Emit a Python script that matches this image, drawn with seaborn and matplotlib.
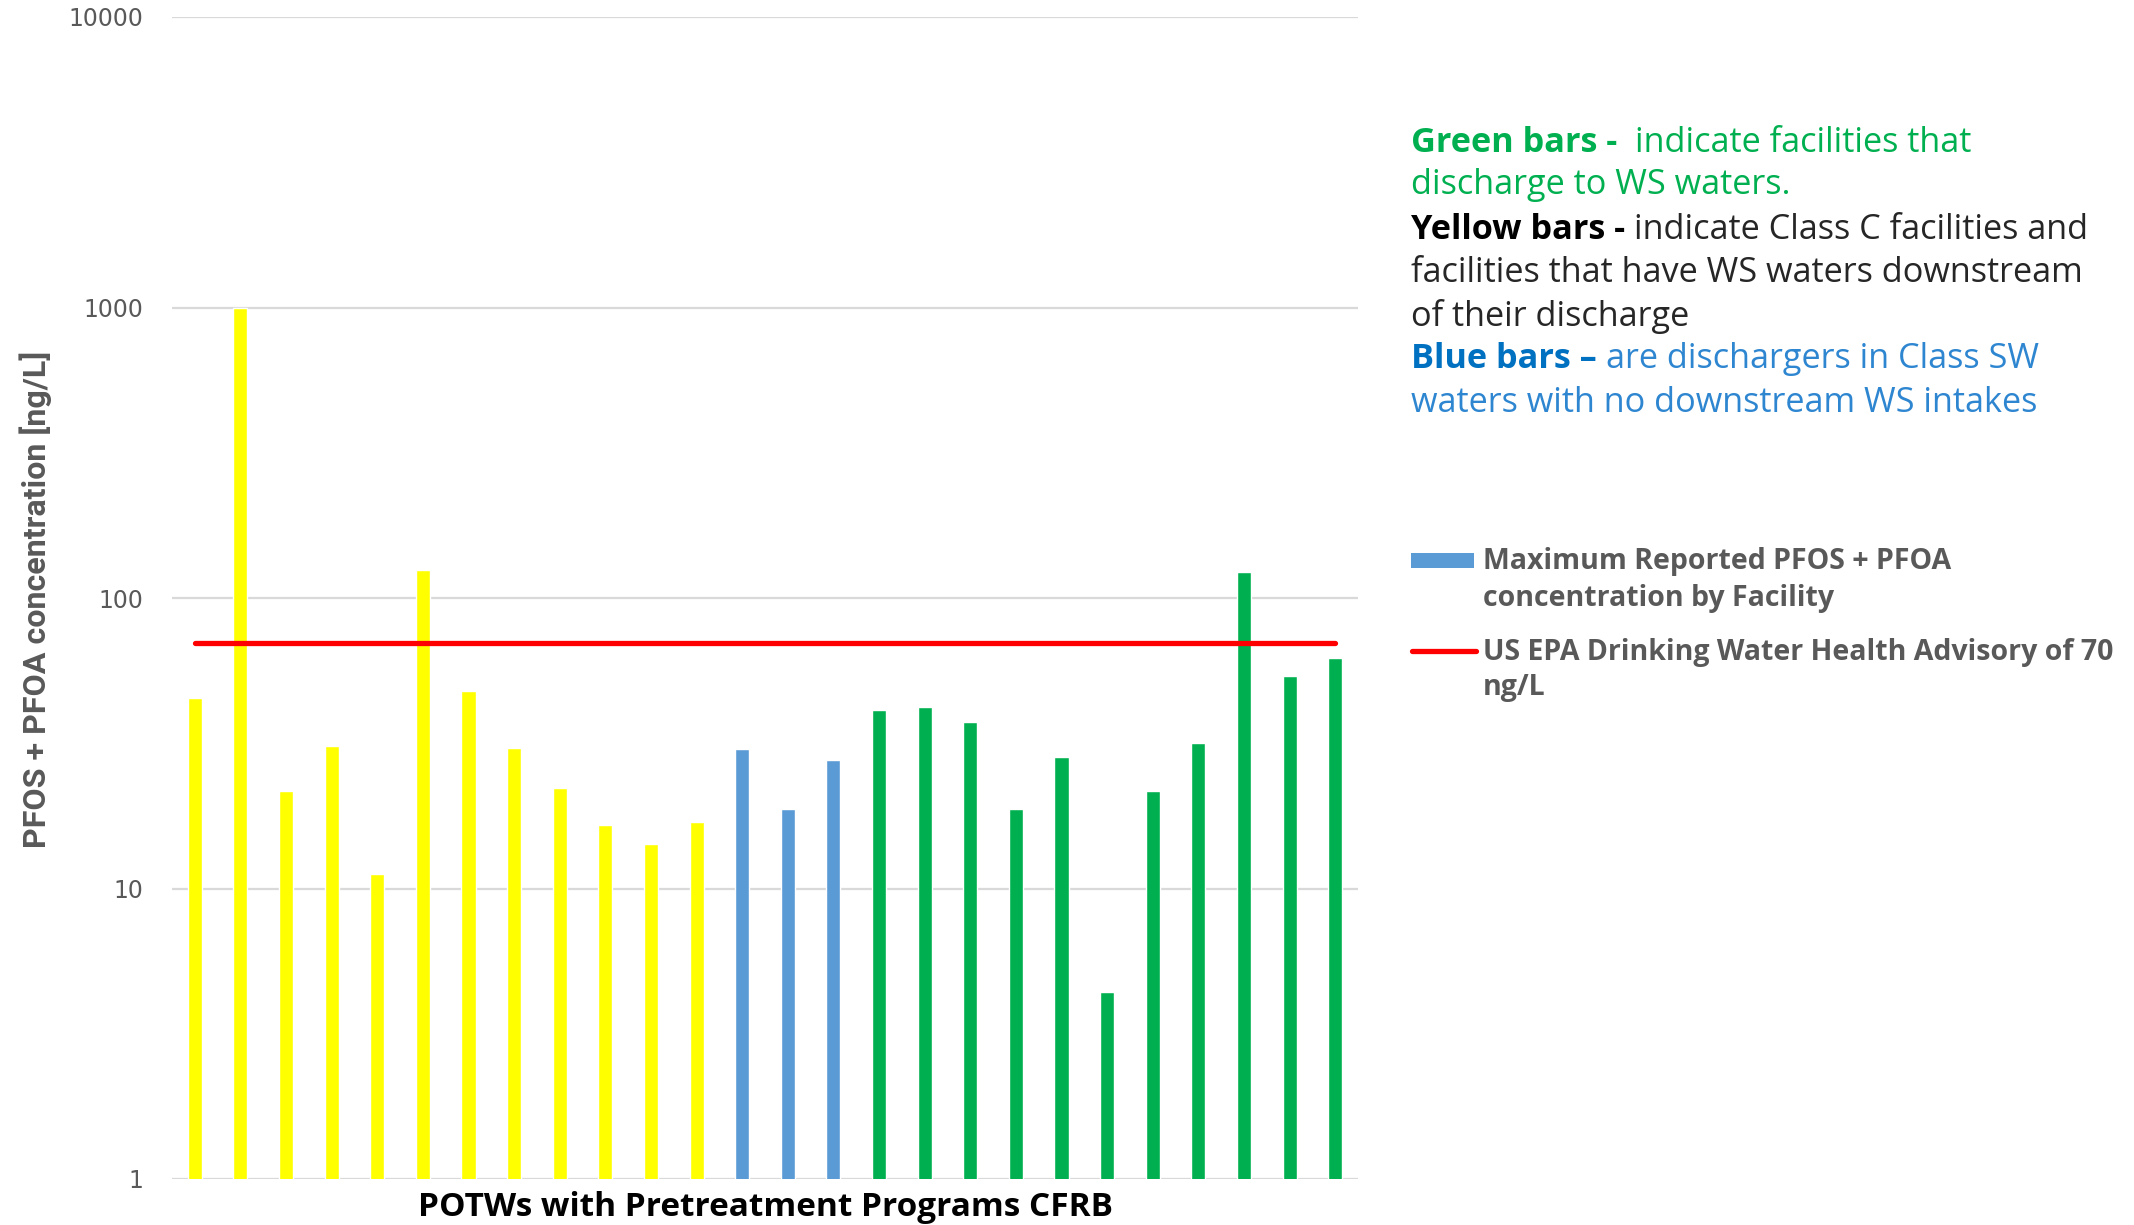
import matplotlib
matplotlib.use("Agg")
import matplotlib.pyplot as plt
import seaborn as sns
import pandas as pd
from matplotlib.lines import Line2D
from matplotlib.patches import Rectangle
from matplotlib.ticker import FixedLocator, FixedFormatter, NullLocator

# ---------------- data ----------------
facilities = ["F01", "F02", "F03", "F04", "F05", "F06", "F07", "F08", "F09",
              "F10", "F11", "F12", "F13", "F14", "F15", "F16", "F17", "F18",
              "F19", "F20", "F21", "F22", "F23", "F24", "F25", "F26"]
concentration = [45.4, 1000, 21.7, 30.9, 11.2, 125, 48.0, 30.5, 22.1, 16.5,
                 14.2, 17.0, 30.1, 18.8, 27.8, 41.1, 42.0, 37.4, 18.8, 28.3,
                 4.4, 21.7, 31.6, 123, 53.7, 62.2]
bar_class = ["yellow"] * 12 + ["blue"] * 3 + ["green"] * 11
advisory_level = 70
ytick_values = [1, 10, 100, 1000, 10000]
ytick_labels = ["1", "10", "100", "1000", "10000"]

palette = {"yellow": "#FFFF00", "blue": "#5B9BD5", "green": "#00B050"}

df = pd.DataFrame({"facility": facilities, "value": concentration, "cls": bar_class})

# ---------------- figure ----------------
sns.set_style("white")
plt.rcParams["font.family"] = ["DejaVu Sans"]

W, H = 2134, 1225
fig = plt.figure(figsize=(W / 100, H / 100), dpi=100)
ax_left, ax_right, ax_top, ax_bottom = 172, 1358, 17, 1179
ax = fig.add_axes([ax_left / W, 1 - ax_bottom / H,
                   (ax_right - ax_left) / W, (ax_bottom - ax_top) / H])

sns.barplot(data=df, x="facility", y="value", hue="cls", palette=palette,
            dodge=False, width=0.31, legend=False, ax=ax, saturation=1,
            order=facilities)
ax.set_yscale("log")
ax.set_ylim(1, 10000)
ax.set_xlim(-0.5, len(facilities) - 0.5)

# advisory line across the facilities
sns.lineplot(x=[0, len(facilities) - 1], y=[advisory_level, advisory_level],
             color="#FF0000", lw=3.8, ax=ax, solid_capstyle="round", zorder=5)

ax.yaxis.set_major_locator(FixedLocator(ytick_values))
ax.yaxis.set_major_formatter(FixedFormatter(ytick_labels))
ax.yaxis.set_minor_locator(NullLocator())
ax.tick_params(axis="y", length=0, pad=21, labelsize=17, labelcolor="#595959")
ax.tick_params(axis="x", length=0, labelbottom=False)
ax.grid(axis="y", color="#D9D9D9", lw=1.6)
ax.grid(axis="x", visible=False)
ax.set_axisbelow(True)
for s in ax.spines.values():
    s.set_visible(False)

ax.set_ylabel("PFOS + PFOA concentration [ng/L]", fontsize=23.2, fontweight="bold",
              color="#595959", family=["Roboto", "DejaVu Sans"], va="center")
ax.yaxis.set_label_coords((36 - ax_left) / (ax_right - ax_left), 0.499)
ax.set_xlabel("POTWs with Pretreatment Programs CFRB", fontsize=24,
              fontweight="bold", color="black", va="center",
              family=["Open Sans", "DejaVu Sans"])
ax.xaxis.set_label_coords(0.5, -(1207 - ax_bottom) / (ax_bottom - ax_top))

# ---------------- annotation text ----------------
ann_font = ["Open Sans", "DejaVu Sans"]
ann_size = 24.7
x0 = 1411 / W
green_c, black_c, blue_b, blue_c = "#00B050", "#262626", "#0070C0", "#2E86D1"


def chain(y_px, parts):
    first = fig.text(x0, 1 - y_px / H, parts[0][0], color=parts[0][1],
                     fontweight=parts[0][2], fontsize=ann_size, family=ann_font,
                     va="center", ha="left")
    prev = first
    for txt, color, weight in parts[1:]:
        prev = ax.annotate(txt, xy=(1, 0), xycoords=prev, va="bottom", ha="left",
                           color=color, fontweight=weight, fontsize=ann_size,
                           family=ann_font, annotation_clip=False)


chain(143, [("Green bars -  ", green_c, "bold"), ("indicate facilities that", green_c, "normal")])
chain(185.5, [("discharge to WS waters.", green_c, "normal")])
chain(230, [("Yellow bars - ", "black", "bold"), ("indicate Class C facilities and", black_c, "normal")])
chain(272.5, [("facilities that have WS waters downstream", black_c, "normal")])
chain(316, [("of their discharge", black_c, "normal")])
chain(359.5, [("Blue bars \u2013 ", blue_b, "bold"), ("are dischargers in Class SW", blue_c, "normal")])
chain(403, [("waters with no downstream WS intakes", blue_c, "normal")])

# ---------------- legend ----------------
leg_c = "#595959"
leg_size = 20.5
fig.add_artist(Rectangle((1411 / W, 1 - 568 / H), 63 / W, 15 / H,
                         transform=fig.transFigure, color="#5B9BD5", lw=0))
fig.add_artist(Line2D([1412 / W, 1476 / W], [1 - 651 / H, 1 - 651 / H],
                      transform=fig.transFigure, color="#FF0000", lw=3.8,
                      solid_capstyle="round"))
for y_px, txt in [(562, "Maximum Reported PFOS + PFOA"), (598, "concentration by Facility"),
                  (652, "US EPA Drinking Water Health Advisory of 70"), (688, "ng/L")]:
    fig.text(1483 / W, 1 - y_px / H, txt, color=leg_c, fontweight="bold",
             fontsize=leg_size, family=ann_font, va="center", ha="left")

fig.savefig("out.png", dpi=100)
